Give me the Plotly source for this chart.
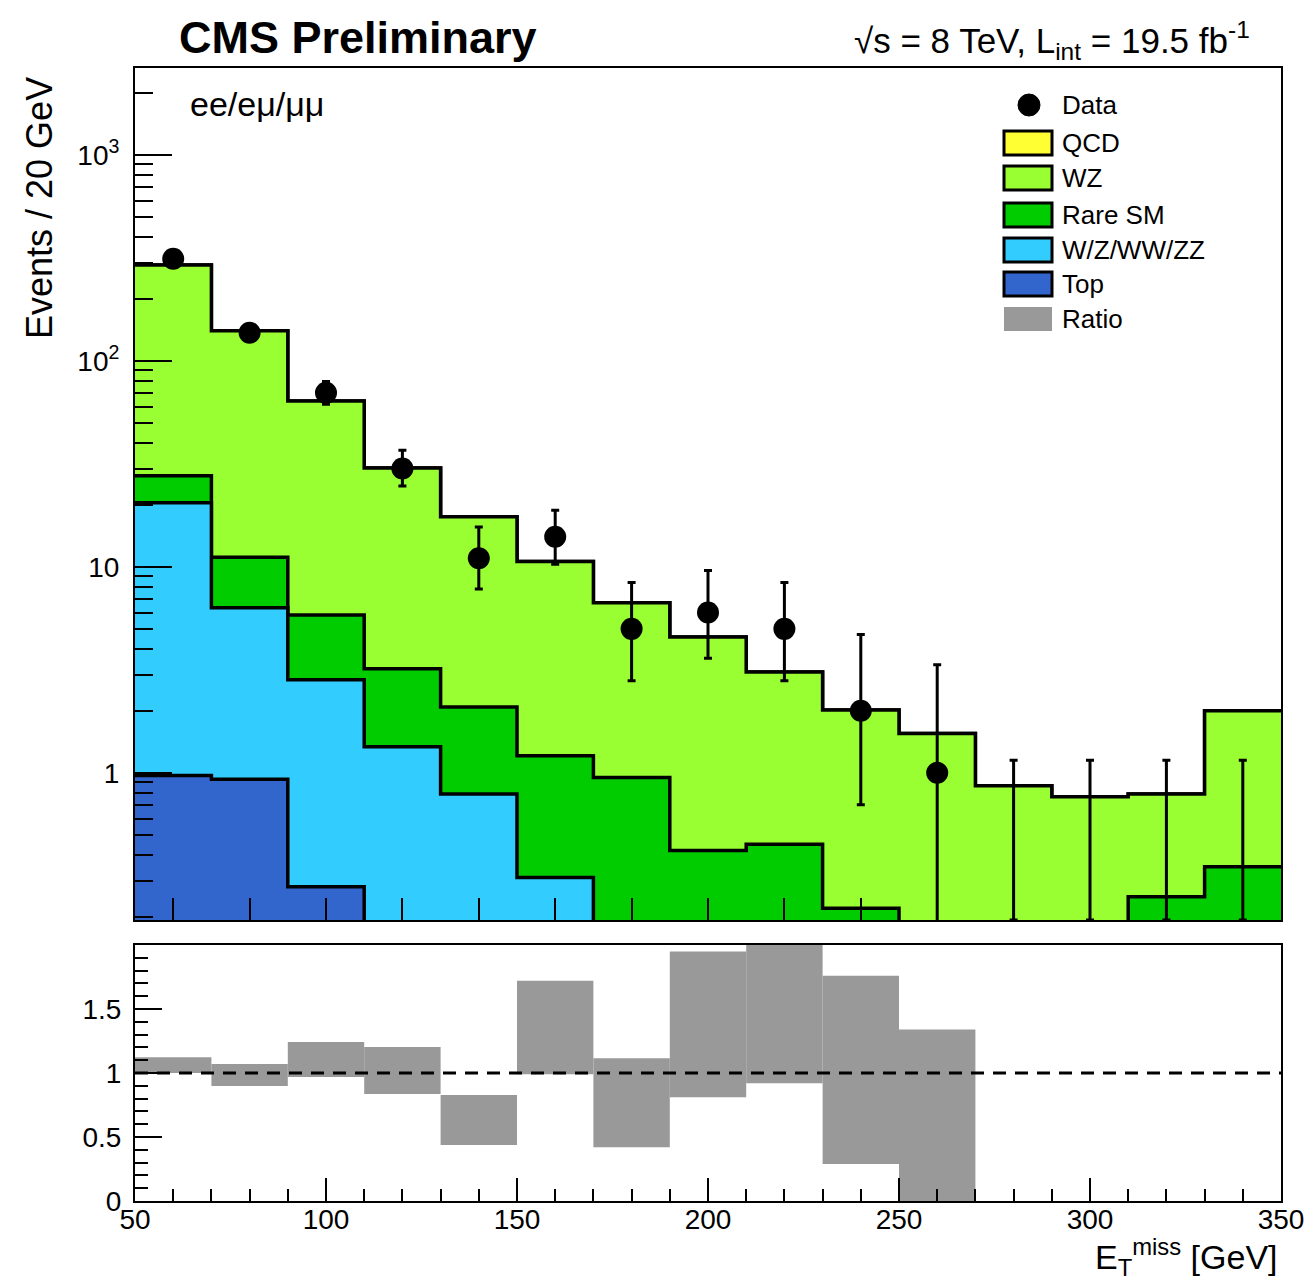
import numpy as np
import plotly.graph_objects as go

# ---------------- data ----------------
bin_edges = [50, 70, 90, 110, 130, 150, 170, 190, 210, 230, 250, 270, 290, 310, 330, 350]
bin_centers = [60, 80, 100, 120, 140, 160, 180, 200, 220, 240, 260, 280, 300, 320, 340]

data_obs = [313, 137, 70, 30, 11, 14, 5, 6, 5, 2, 1, 0, 0, 0, 0]
data_err_up = [18.7, 12.7, 9.4, 6.8, 4.6, 4.8, 3.4, 3.6, 3.4, 2.7, 2.35, 1.15, 1.15, 1.15, 1.15]
data_err_low = [17.7, 11.7, 8.4, 5.3, 3.2, 3.7, 2.2, 2.4, 2.2, 1.3, 0.83, 0, 0, 0, 0]

bkg_top = [0.97, 0.93, 0.28, 0, 0, 0, 0, 0, 0, 0, 0, 0, 0, 0, 0]
bkg_wzwwzz = [19.5, 5.4, 2.55, 1.34, 0.79, 0.31, 0, 0, 0, 0, 0, 0, 0, 0, 0]
bkg_rare = [7.2, 4.8, 3.0, 1.86, 1.3, 0.9, 0.95, 0.42, 0.45, 0.22, 0, 0, 0, 0.25, 0.35]
bkg_wz = [264, 129, 58, 27, 15.4, 9.4, 5.74, 4.15, 2.64, 1.8, 1.55, 0.865, 0.765, 0.54, 1.65]
bkg_qcd = [0] * 15

ratio_val = [1.062, 0.984, 1.105, 1.02, 0.633, 1.355, 0.768, 1.38, 1.62, 1.025, 0.67,
             None, None, None, None]
ratio_err = [0.062, 0.086, 0.137, 0.184, 0.195, 0.365, 0.348, 0.57, 0.70, 0.735, 0.67,
             None, None, None, None]

legend_labels = ["Data", "QCD", "WZ", "Rare SM", "W/Z/WW/ZZ", "Top", "Ratio"]

# ---------------- styles ----------------
col_qcd = "#FFFF33"
col_wz = "#99FF33"
col_rare = "#00CC00"
col_wzz = "#33CCFF"
col_top = "#3366CC"
col_ratio = "#999999"
FONT = "Liberation Sans, Arial, Helvetica, sans-serif"

W, H = 1311, 1285
def px(x):
    return x / W
def py(y):
    return 1 - y / H

y_lo, y_hi = 0.193, 2640.0

fig = go.Figure()

# cumulative stacks (drawn from the largest down)
cum_top = np.array(bkg_top, dtype=float)
cum_wzz = cum_top + np.array(bkg_wzwwzz)
cum_rare = cum_wzz + np.array(bkg_rare)
cum_wz = cum_rare + np.array(bkg_wz)
cum_qcd = cum_wz + np.array(bkg_qcd)

stacks = [(cum_qcd, col_qcd), (cum_wz, col_wz), (cum_rare, col_rare),
          (cum_wzz, col_wzz), (cum_top, col_top)]
for cum, col in stacks:
    vals = np.where(cum > 0, cum, 1e-4)
    yy = list(vals) + [vals[-1]]
    fig.add_trace(go.Scatter(
        x=bin_edges, y=yy, mode="lines", line=dict(shape="hv", color="black", width=3.5),
        fill="tozeroy", fillcolor=col, xaxis="x", yaxis="y", hoverinfo="skip"))

# data points (non-zero)
obs = np.array(data_obs, dtype=float)
nz = obs > 0
cx = np.array(bin_centers, dtype=float)
fig.add_trace(go.Scatter(
    x=cx[nz], y=obs[nz], mode="markers",
    marker=dict(color="black", size=22),
    error_y=dict(type="data", symmetric=False,
                 array=np.array(data_err_up)[nz], arrayminus=np.array(data_err_low)[nz],
                 color="black", thickness=3, width=4),
    xaxis="x", yaxis="y"))
# zero-count bins: only the upper error bar
z = ~nz
fig.add_trace(go.Scatter(
    x=cx[z], y=[y_lo] * int(z.sum()), mode="markers",
    marker=dict(color="black", size=1, opacity=0),
    error_y=dict(type="data", symmetric=False,
                 array=np.array(data_err_up)[z] - y_lo, arrayminus=[0] * int(z.sum()),
                 color="black", thickness=3, width=4),
    xaxis="x", yaxis="y", cliponaxis=False))

# ratio boxes
rx, rbase, rh = [], [], []
for c, v, e in zip(bin_centers, ratio_val, ratio_err):
    if v is None:
        continue
    rx.append(c)
    rbase.append(max(v - e, 0))
    rh.append(v + e - max(v - e, 0))
fig.add_trace(go.Bar(x=rx, y=rh, base=rbase, width=20, marker=dict(color=col_ratio, line=dict(width=0)),
                     xaxis="x2", yaxis="y2"))

minor_log = [m * 10.0 ** e for e in range(-1, 4) for m in range(2, 10)]

axis_common = dict(showline=True, mirror=True, linecolor="black", linewidth=2,
                   showgrid=False, zeroline=False, ticks="inside", tickcolor="black",
                   tickwidth=2, automargin=False,
                   tickfont=dict(family=FONT, size=28, color="black"))

fig.update_layout(
    width=W, height=H, autosize=False,
    margin=dict(l=0, r=0, t=0, b=0, pad=0, autoexpand=False),
    paper_bgcolor="white", plot_bgcolor="white",
    showlegend=False, barmode="overlay",
    xaxis=dict(domain=[px(135), px(1281)], range=[50, 350], anchor="y",
               showticklabels=False, tickmode="array", tickvals=bin_centers, ticklen=22,
               **axis_common),
    yaxis=dict(domain=[py(920), py(68)], type="log",
               range=[np.log10(y_lo), np.log10(y_hi)], anchor="x",
               tickmode="array", tickvals=[1, 10, 100, 1000],
               ticktext=["1", "10", "10<sup>2</sup>", "10<sup>3</sup>"],
               ticklen=37, ticklabelstandoff=8,
               minor=dict(tickmode="array", tickvals=minor_log, ticklen=18,
                          tickwidth=2, tickcolor="black", ticks="inside"),
               **axis_common),
    xaxis2=dict(domain=[px(135), px(1281)], range=[50, 350], anchor="y2",
                tickmode="array", tickvals=[50, 100, 150, 200, 250, 300, 350],
                ticklen=23, ticklabelstandoff=-8,
                minor=dict(tick0=50, dtick=10, ticklen=12, tickwidth=2,
                           tickcolor="black", ticks="inside"),
                **axis_common),
    yaxis2=dict(domain=[py(1201), py(945)], range=[0, 2], anchor="x2",
                tickmode="array", tickvals=[0, 0.5, 1, 1.5], ticktext=["0", "0.5", "1", "1.5"],
                ticklen=27, ticklabelstandoff=6,
                minor=dict(tick0=0, dtick=0.1, ticklen=13, tickwidth=2,
                           tickcolor="black", ticks="inside"),
                **axis_common),
)

# dashed reference line at ratio 1
fig.add_shape(type="line", xref="x2 domain", yref="y2", x0=0, x1=1, y0=1, y1=1,
              line=dict(color="black", width=3, dash="13px,9px"))

# texts
ann = []
ann.append(dict(text="<b>CMS Preliminary</b>", x=px(177), y=py(37), xanchor="left", yanchor="middle",
                font=dict(family=FONT, size=45, color="black")))
ann.append(dict(text="√s = 8 TeV, L<sub>int</sub> = 19.5 fb<sup>-1</sup>", x=px(1252), y=py(40),
                xanchor="right", yanchor="middle", font=dict(family=FONT, size=35, color="black")))
ann.append(dict(text="ee/eμ/μμ", x=px(188), y=py(104), xanchor="left", yanchor="middle",
                font=dict(family=FONT, size=34, color="black")))
ann.append(dict(text="Events / 20 GeV", x=px(40), y=py(208), textangle=-90,
                xanchor="center", yanchor="middle", font=dict(family=FONT, size=36, color="black")))
ann.append(dict(text="E<sub>T</sub><sup>miss</sup> [GeV]", x=px(1280), y=py(1257),
                xanchor="right", yanchor="middle", font=dict(family=FONT, size=34, color="black")))

# legend (manual, ROOT style)
leg_colors = [None, col_qcd, col_wz, col_rare, col_wzz, col_top, col_ratio]
row_y = [105, 143, 178, 215, 250, 284, 319]
for lab, col, ry in zip(legend_labels, leg_colors, row_y):
    if col is None:
        fig.add_shape(type="circle", xref="paper", yref="paper",
                      xsizemode="pixel", ysizemode="pixel",
                      xanchor=px(1029), yanchor=py(ry), x0=-11, x1=11, y0=-11, y1=11,
                      fillcolor="black", line=dict(color="black", width=1))
    else:
        border = dict(color="black", width=3) if lab != "Ratio" else dict(width=0)
        fig.add_shape(type="rect", xref="paper", yref="paper",
                      x0=px(1004), x1=px(1052), y0=py(ry + 12), y1=py(ry - 12),
                      fillcolor=col, line=border)
    ann.append(dict(text=lab, x=px(1060), y=py(ry), xanchor="left", yanchor="middle",
                    font=dict(family=FONT, size=26, color="black")))

for a in ann:
    a.update(xref="paper", yref="paper", showarrow=False)
fig.update_layout(annotations=ann)

fig.write_html("out.html")
